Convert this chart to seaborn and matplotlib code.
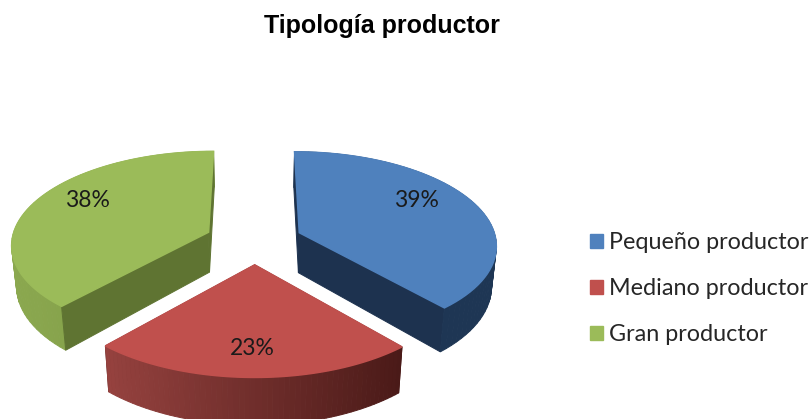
import numpy as np
import matplotlib
matplotlib.use("Agg")
import matplotlib.pyplot as plt
from matplotlib.patches import Patch
from matplotlib.colors import to_rgb
import seaborn as sns

title = "Tipología productor"
categories = ["Pequeño productor", "Mediano productor", "Gran productor"]
values = [38.6, 23.0, 38.4]

sns.set_theme(style="white")
top_colors = sns.color_palette(["#4F81BD", "#C0504D", "#9BBB59"])
rim_left = ["#1E3654", "#96423F", "#8BA84F"]
rim_right = ["#1E3654", "#4A1A18", "#7B9644"]
radial_cols = ["#1D324F", "#4A1A18", "#5F7432"]
label_px = [(416, 200), (252, 348), (87, 200)]

fig = plt.figure(figsize=(8.11, 4.19), dpi=100)
ax = fig.add_axes([0, 0, 1, 1])
wedges, _ = ax.pie(values, explode=[0.2425, 0.255, 0.255], center=(0, -0.082), radius=1,
                   startangle=90, counterclock=False, colors=top_colors)
geom = [(np.array(w.center), w.r, w.theta1, w.theta2) for w in wedges]
for w in wedges:
    w.remove()
ax.set_aspect("auto")
ax.set_xlim(0, 811)
ax.set_ylim(419, 0)
ax.axis("off")

# perspective view of the pie plane
K, A, B, CX, CY = 0.12, 90.7, 195.0, 255.0, 233.0
DEPTH, SHRINK = 40.0, 0.02


def top(p):
    d = 1 + K * p[:, 1]
    return np.c_[CX + B * p[:, 0] / d, CY - A * p[:, 1] / d]


def bottom(p):
    d = 1 + K * p[:, 1]
    return np.c_[CX + B * p[:, 0] / (d + SHRINK), CY - A * p[:, 1] / d + DEPTH / d]


for i, (c, r, t1, t2) in enumerate(geom):
    th = np.radians(np.linspace(t1, t2, 60))
    rim = c + r * np.c_[np.cos(th), np.sin(th)]
    outline = np.vstack([c, rim, c])
    T, Bo = top(outline), bottom(outline)
    xs = T[1:-1, 0]
    x0, x1 = xs.min(), xs.max()
    quads = []
    n = len(outline) - 1
    for j in range(n):
        is_rim = 1 <= j < n - 1
        if is_rim:
            f = (0.5 * (T[j, 0] + T[j + 1, 0]) - x0) / (x1 - x0)
            col = (1 - f) * np.array(to_rgb(rim_left[i])) + f * np.array(to_rgb(rim_right[i]))
        else:
            col = np.array(to_rgb(radial_cols[i]))
        q = np.array([T[j], T[j + 1], Bo[j + 1], Bo[j]])
        quads.append((q[:, 1].max(), q, col))
    for _, q, col in sorted(quads, key=lambda t: t[0]):
        ax.fill(q[:, 0], q[:, 1], facecolor=col, edgecolor=col, linewidth=0.7, zorder=2)
    ax.fill(T[:, 0], T[:, 1], facecolor=top_colors[i], edgecolor=top_colors[i],
            linewidth=1.1, zorder=3)
    ax.text(label_px[i][0], label_px[i][1], f"{values[i]:.0f}%", family="Lato", fontsize=16.5,
            color="#1a1a1a", ha="center", va="center", zorder=4)

ax.text(382, 26, title, family="Liberation Sans", fontweight="bold", fontsize=18,
        color="black", ha="center", va="center")

handles = [Patch(facecolor=c, edgecolor=c, label=l) for c, l in zip(top_colors, categories)]
ax.legend(handles=handles, loc="upper left", bbox_to_anchor=(590 / 811, 1 - 232 / 419),
          bbox_transform=fig.transFigure, frameon=False, borderpad=0, borderaxespad=0,
          handlelength=0.56, handleheight=0.56, handletextpad=0.26, labelspacing=1.07,
          prop={"family": "Lato", "size": 16.8})

fig.savefig("out.png", dpi=100, facecolor="white")
